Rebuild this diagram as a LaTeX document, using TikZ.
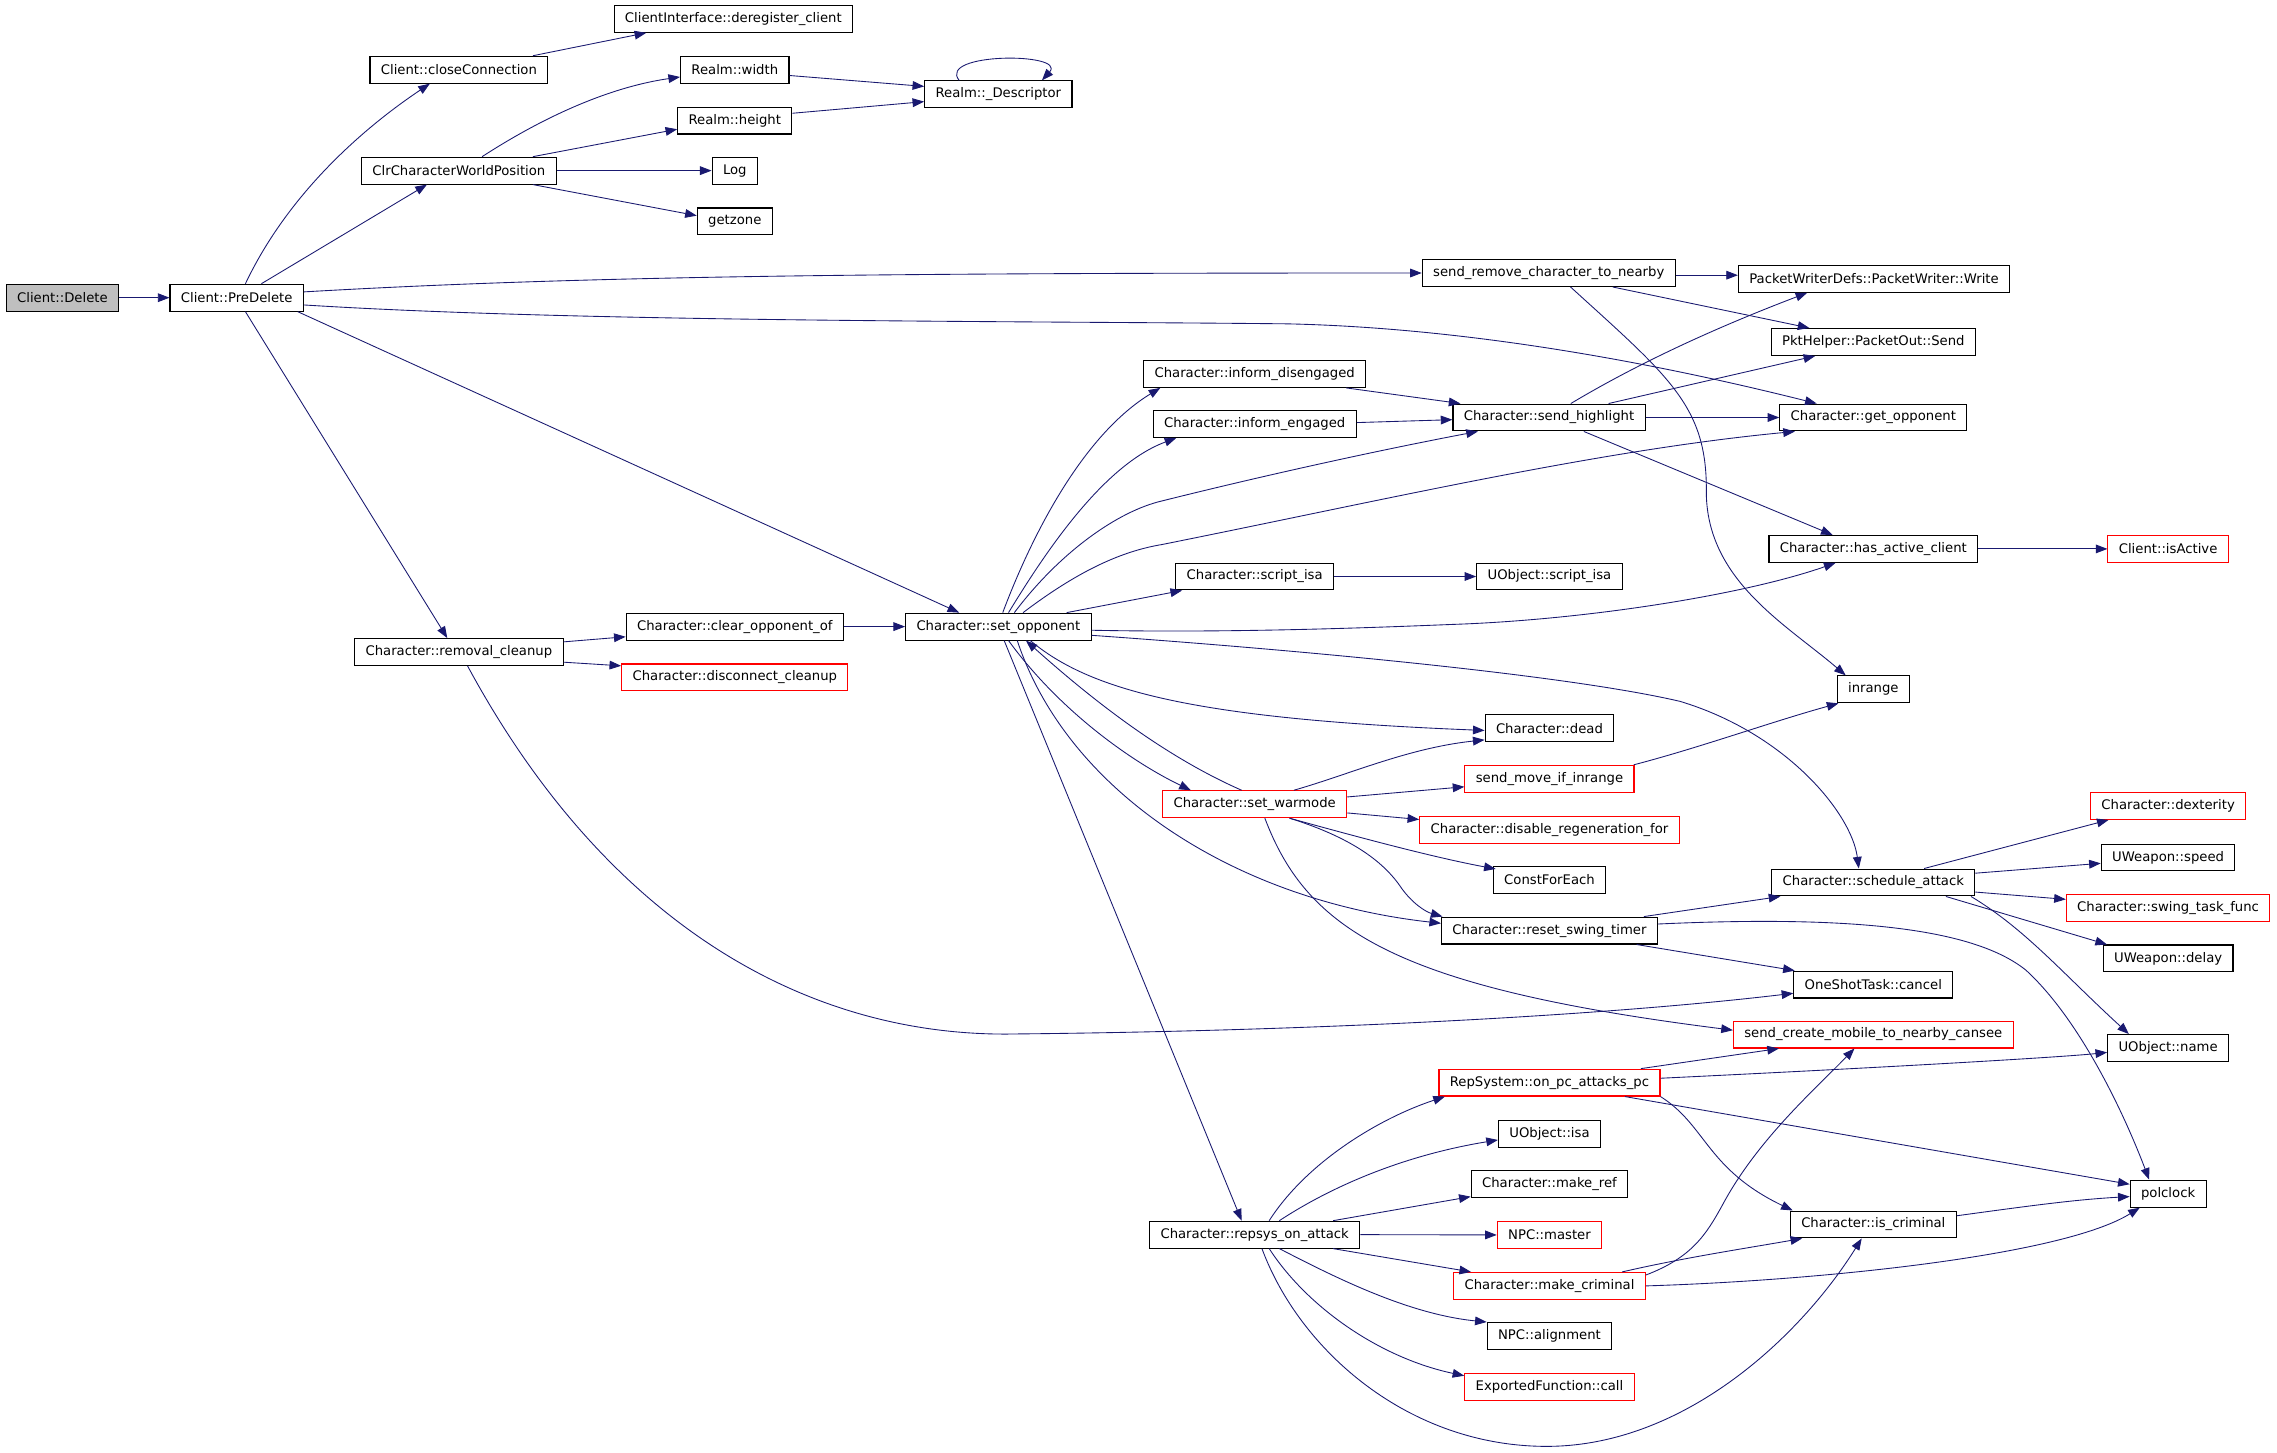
\documentclass[tikz,border=0pt]{standalone}
\usepackage{fontspec}
\setmainfont{DejaVu Sans}
\usetikzlibrary{arrows.meta}
\definecolor{edgec}{HTML}{191970}
\begin{document}
\begin{tikzpicture}[x=1pt,y=1pt,
  box/.style={draw=black, line width=0.75pt, minimum height=18.5pt, inner xsep=7.5pt, inner ysep=0pt, font=\fontsize{9.1pt}{11pt}\selectfont, anchor=center},
  redbox/.style={box, draw=red},
  e/.style={draw=edgec, line width=0.6pt, -{Triangle[length=8pt,width=6pt]}}
]
\useasboundingbox[fill=white] (0,0) rectangle (1568,-1000);
% nodes
\node[box, fill=black!25] (del) at (43,-205) {Client::Delete};
\node[box] (pre) at (163,-205) {Client::PreDelete};
\node[box] (close) at (316,-48) {Client::closeConnection};
\node[box] (dereg) at (505,-13) {ClientInterface::deregister\_client};
\node[box] (clr) at (316,-117.5) {ClrCharacterWorldPosition};
\node[box] (rwidth) at (506,-48) {Realm::width};
\node[box] (rheight) at (506,-83) {Realm::height};
\node[box] (log) at (506,-117.5) {Log};
\node[box] (getzone) at (506,-152.5) {getzone};
\node[box] (desc) at (687.5,-65) {Realm::\_Descriptor};
\node[box] (sendrem) at (1066.5,-188) {send\_remove\_character\_to\_nearby};
\node[box] (pwrite) at (1290.5,-192) {PacketWriterDefs::PacketWriter::Write};
\node[box] (psend) at (1290,-235.5) {PktHelper::PacketOut::Send};
\node[box] (idis) at (864,-257.5) {Character::inform\_disengaged};
\node[box] (ieng) at (864,-292) {Character::inform\_engaged};
\node[box] (shl) at (1066.7,-287.5) {Character::send\_highlight};
\node[box] (getopp) at (1290,-287.5) {Character::get\_opponent};
\node[box] (hac) at (1290,-378) {Character::has\_active\_client};
\node[redbox] (isactive) at (1493,-378) {Client::isActive};
\node[box] (script) at (864,-397) {Character::script\_isa};
\node[box] (uscript) at (1067,-397) {UObject::script\_isa};
\node[box] (setopp) at (687.5,-431.5) {Character::set\_opponent};
\node[box] (clear) at (506,-431.5) {Character::clear\_opponent\_of};
\node[box] (removal) at (316,-449) {Character::removal\_cleanup};
\node[redbox] (disc) at (506,-466.5) {Character::disconnect\_cleanup};
\node[box] (inrange) at (1290,-474.7) {inrange};
\node[box] (dead) at (1067,-501.5) {Character::dead};
\node[redbox] (sendmove) at (1067,-536.3) {send\_move\_if\_inrange};
\node[redbox] (warmode) at (864,-553.8) {Character::set\_warmode};
\node[redbox] (disable) at (1067,-571.3) {Character::disable\_regeneration\_for};
\node[box] (constfe) at (1067,-606) {ConstForEach};
\node[box] (sched) at (1290,-607.7) {Character::schedule\_attack};
\node[redbox] (dex) at (1493,-555) {Character::dexterity};
\node[box] (speed) at (1493,-590.5) {UWeapon::speed};
\node[redbox] (swing) at (1493,-625.3) {Character::swing\_task\_func};
\node[box] (delay) at (1493,-660) {UWeapon::delay};
\node[box] (reset) at (1067,-640.8) {Character::reset\_swing\_timer};
\node[box] (cancel) at (1290,-678) {OneShotTask::cancel};
\node[redbox] (sendcreate) at (1290,-712.4) {send\_create\_mobile\_to\_nearby\_cansee};
\node[box] (uname) at (1493,-721.7) {UObject::name};
\node[redbox] (rep) at (1067,-745.5) {RepSystem::on\_pc\_attacks\_pc};
\node[box] (uisa) at (1067,-781) {UObject::isa};
\node[box] (makeref) at (1067,-815.4) {Character::make\_ref};
\node[redbox] (master) at (1067,-850.4) {NPC::master};
\node[box] (repsys) at (864,-850.2) {Character::repsys\_on\_attack};
\node[redbox] (makecrim) at (1067,-885.5) {Character::make\_criminal};
\node[box] (iscrim) at (1290,-843.2) {Character::is\_criminal};
\node[box] (polclock) at (1493,-822) {polclock};
\node[box] (npcalign) at (1067,-920) {NPC::alignment};
\node[redbox] (expfn) at (1067,-955) {ExportedFunction::call};
% edges
\draw[e] (del.east) -- (pre.west);
\draw[e] ([xshift=6pt]pre.north) .. controls (200,-130) and (255,-85) .. ([xshift=-20pt]close.south);
\draw[e] ([xshift=17pt]pre.north) -- ([xshift=-22pt]clr.south);
\draw[e] ([yshift=4pt]pre.east) .. controls (400,-190) and (600,-188) .. (sendrem.west);
\draw[e] ([yshift=-5pt]pre.east) .. controls (400,-222) and (700,-221) .. (886,-223) .. controls (980,-225) and (1100,-240) .. ([xshift=-39pt]getopp.north);
\draw[e] ([xshift=42pt]pre.south) -- ([xshift=-27pt]setopp.north);
\draw[e] ([xshift=6pt]pre.south) -- ([xshift=-8pt]removal.north);
\draw[e] ([xshift=51pt]close.north) -- ([xshift=-60pt]dereg.south);
\draw[e] ([xshift=16pt]clr.north) .. controls (375,-80) and (420,-60) .. ([yshift=-5pt]rwidth.west);
\draw[e] ([xshift=51pt]clr.north) -- ([yshift=-6pt]rheight.west);
\draw[e] (clr.east) -- (log.west);
\draw[e] ([xshift=51pt]clr.south) -- ([yshift=4pt]getzone.west);
\draw[e] ([yshift=-4pt]rwidth.east) -- ([yshift=5.5pt]desc.west);
\draw[e] ([yshift=5pt]rheight.east) -- ([yshift=-5pt]desc.west);
\draw[e] ([xshift=-27pt]desc.north) .. controls (645,-36) and (735,-36) .. ([xshift=30pt]desc.north);
\draw[e] ([yshift=-1.5pt]sendrem.east) -- ([yshift=2.5pt]pwrite.west);
\draw[e] ([xshift=44pt]sendrem.south) -- ([xshift=-44pt]psend.north);
\draw[e] ([xshift=15pt]sendrem.south) .. controls (1150,-260) and (1176,-280) .. (1175,-340) .. controls (1176,-400) and (1230,-430) .. ([xshift=-19pt]inrange.north);
\draw[e] ([xshift=63pt]idis.south) -- ([xshift=-61pt]shl.north);
\draw[e] ([yshift=1pt]ieng.east) -- ([yshift=-1.5pt]shl.west);
\draw[e] ([xshift=15pt]shl.north) .. controls (1120,-255) and (1170,-230) .. ([xshift=-46pt]pwrite.south);
\draw[e] ([xshift=41pt]shl.north) -- ([xshift=-40pt]psend.south);
\draw[e] (shl.east) -- (getopp.west);
\draw[e] ([xshift=24pt]shl.south) -- ([xshift=-28pt]hac.north);
\draw[e] (hac.east) -- (isactive.west);
\draw[e] ([xshift=3pt]setopp.north) .. controls (710,-370) and (745,-300) .. ([xshift=-65pt]idis.south);
\draw[e] ([xshift=7pt]setopp.north) .. controls (720,-380) and (760,-320) .. ([xshift=-54pt]ieng.south);
\draw[e] ([xshift=11pt]setopp.north) .. controls (730,-380) and (770,-352) .. (800,-345) .. controls (880,-325) and (960,-308) .. ([xshift=-49pt]shl.south);
\draw[e] ([xshift=17pt]setopp.north) .. controls (740,-395) and (770,-380) .. (800,-375) .. controls (950,-345) and (1100,-310) .. ([xshift=-54pt]getopp.south);
\draw[e] ([xshift=47pt]setopp.north) -- ([xshift=-50pt]script.south);
\draw[e] (script.east) -- (uscript.west);
\draw[e] ([yshift=-2.5pt]setopp.east) .. controls (850,-436) and (950,-432) .. (1000,-430) .. controls (1090,-427) and (1200,-410) .. ([xshift=-26pt]hac.south);
\draw[e] ([yshift=-6pt]setopp.east) .. controls (900,-448) and (1080,-465) .. (1157,-483) .. controls (1230,-505) and (1275,-560) .. ([xshift=-10pt]sched.north);
\draw[e] ([xshift=22pt]setopp.south) .. controls (750,-475) and (820,-495) .. ([yshift=-1.5pt]dead.west);
\draw[e] ([xshift=7pt]setopp.south) .. controls (730,-490) and (780,-525) .. ([xshift=-44pt]warmode.north);
\draw[e] ([xshift=-9pt]warmode.north) .. controls (800,-520) and (750,-480) .. ([xshift=19pt]setopp.south);
\draw[e] ([xshift=13pt]setopp.south) .. controls (735,-545) and (850,-620) .. ([yshift=5pt]reset.west);
\draw[e] ([xshift=4pt]setopp.south) -- ([xshift=-9pt]repsys.north);
\draw[e] ([xshift=27pt]warmode.north) .. controls (930,-533) and (970,-515) .. ([yshift=-8pt]dead.west);
\draw[e] ([yshift=5pt]warmode.east) -- ([yshift=-5.5pt]sendmove.west);
\draw[e] ([yshift=-6pt]warmode.east) -- ([yshift=7pt]disable.west);
\draw[e] ([xshift=24pt]warmode.south) .. controls (930,-575) and (985,-590) .. ([xshift=2pt,yshift=-2pt]constfe.north west);
\draw[e] ([xshift=24pt]warmode.south) .. controls (925,-575) and (950,-590) .. (964,-610) .. controls (972,-622) and (982,-628) .. ([xshift=1pt]reset.north west);
\draw[e] ([xshift=7pt]warmode.south) .. controls (900,-640) and (960,-680) .. ([yshift=3pt]sendcreate.west);
\draw[e] ([xshift=58pt]sendmove.north) .. controls (1170,-515) and (1220,-497) .. ([xshift=-24pt]inrange.south);
\draw[e] ([xshift=35pt]sched.north) -- ([xshift=-41pt]dex.south);
\draw[e] ([yshift=6.4pt]sched.east) -- ([yshift=-4pt]speed.west);
\draw[e] ([yshift=-6.6pt]sched.east) -- ([yshift=6pt]swing.west);
\draw[e] ([xshift=50pt]sched.south) -- ([xshift=3pt]delay.north west);
\draw[e] ([xshift=-3pt]sched.south east) .. controls (1395,-640) and (1420,-670) .. ([xshift=-27pt]uname.north);
\draw[e] ([xshift=65pt]reset.north) -- ([xshift=-64pt]sched.south);
\draw[e] ([xshift=60pt]reset.south) -- ([xshift=1pt]cancel.north west);
\draw[e] ([yshift=4.5pt]reset.east) .. controls (1280,-630) and (1360,-640) .. (1395,-668) .. controls (1430,-700) and (1460,-760) .. ([xshift=-13pt]polclock.north);
\draw[e] ([yshift=7pt]removal.east) -- ([yshift=-7pt]clear.west);
\draw[e] ([yshift=-7pt]removal.east) -- ([yshift=8pt]disc.west);
\draw[e] (clear.east) -- (setopp.west);
\draw[e] ([xshift=6pt]removal.south) .. controls (420,-640) and (560,-715) .. (700,-712) .. controls (900,-710) and (1100,-700) .. ([yshift=-6pt]cancel.west);
\draw[e] ([xshift=10pt]repsys.north) .. controls (900,-800) and (950,-770) .. ([xshift=-72pt]rep.south);
\draw[e] ([xshift=17pt]repsys.north) .. controls (920,-815) and (970,-795) .. ([yshift=-4pt]uisa.west);
\draw[e] ([xshift=54pt]repsys.north) -- ([yshift=1pt]makeref.south west);
\draw[e] (repsys.east) -- (master.west);
\draw[e] ([xshift=54pt]repsys.south) -- ([xshift=-54pt]makecrim.north);
\draw[e] ([xshift=17pt]repsys.south) .. controls (920,-880) and (970,-905) .. (npcalign.north west);
\draw[e] ([xshift=10pt]repsys.south) .. controls (900,-900) and (950,-935) .. ([yshift=-2pt]expfn.north west);
\draw[e] ([xshift=5pt]repsys.south) .. controls (895,-930) and (970,-996) .. (1065,-996) .. controls (1160,-996) and (1240,-920) .. ([xshift=-8pt]iscrim.south);
\draw[e] ([xshift=50pt]makecrim.north) .. controls (1160,-866) and (1200,-860) .. ([xshift=-49pt]iscrim.south);
\draw[e] ([yshift=7.5pt]makecrim.east) .. controls (1165,-866) and (1175,-850) .. (1186,-830) .. controls (1210,-785) and (1250,-750) .. ([xshift=-13pt]sendcreate.south);
\draw[e] (makecrim.east) .. controls (1250,-882) and (1420,-865) .. ([xshift=-19.5pt]polclock.south);
\draw[e] ([yshift=6pt]iscrim.east) .. controls (1400,-830) and (1430,-826) .. ([yshift=-2pt]polclock.west);
\draw[e] ([xshift=63pt]rep.north) -- ([xshift=-65pt]sendcreate.south);
\draw[e] ([yshift=3pt]rep.east) .. controls (1300,-735) and (1420,-728) .. ([yshift=-3pt]uname.west);
\draw[e] ([xshift=52pt]rep.south) -- ([yshift=6.5pt]polclock.west);
\draw[e] (rep.south east) .. controls (1175,-775) and (1175,-805) .. ([xshift=2pt]iscrim.north west);
\end{tikzpicture}
\end{document}
